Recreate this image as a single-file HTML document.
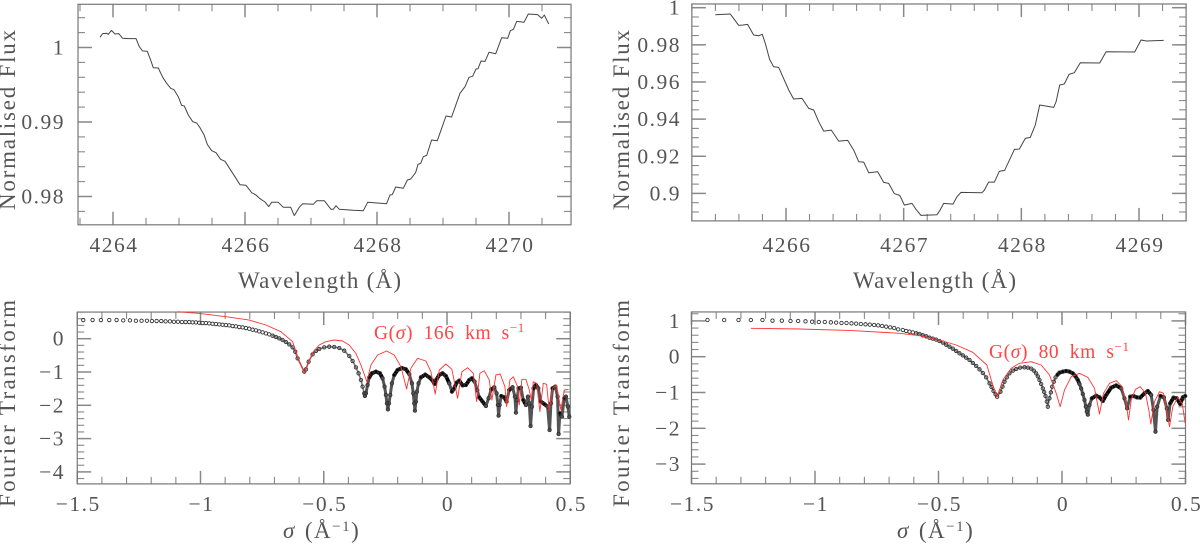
<!DOCTYPE html>
<html lang="en">
<head>
<meta charset="utf-8">
<title>Flux profiles and Fourier transforms</title>
<style>
html,body{margin:0;padding:0;background:#fff;width:1200px;height:544px;overflow:hidden}
svg{display:block}
text{font-family:"Liberation Serif",serif;font-size:21.5px;fill:#555}
.title{font-size:23px}
.red{fill:#f44;font-size:19.5px}
</style>
</head>
<body>
<svg id="fig" xmlns="http://www.w3.org/2000/svg" width="1200" height="544" viewBox="0 0 1200 544">
<rect x="0" y="0" width="1200" height="544" fill="#fff"/>
<text class="title" x="238" y="288" textLength="163" lengthAdjust="spacing">Wavelength (Å)</text>
<text class="title" x="853" y="288" textLength="163" lengthAdjust="spacing">Wavelength (Å)</text>
<text class="title" transform="translate(15,210) rotate(-90)" textLength="180" lengthAdjust="spacing">Normalised Flux</text>
<text class="title" transform="translate(629,210) rotate(-90)" textLength="180" lengthAdjust="spacing">Normalised Flux</text>
<text class="title" transform="translate(15,507) rotate(-90)" textLength="207" lengthAdjust="spacing">Fourier Transform</text>
<text class="title" transform="translate(629,507) rotate(-90)" textLength="207" lengthAdjust="spacing">Fourier Transform</text>
<text class="title" x="283" y="538" style="letter-spacing:1.5px"><tspan font-style="italic">σ</tspan><tspan dx="9">(Å</tspan><tspan dy="-7" font-size="15">−1</tspan><tspan dy="7">)</tspan></text>
<text class="title" x="897" y="538" style="letter-spacing:1.5px"><tspan font-style="italic">σ</tspan><tspan dx="9">(Å</tspan><tspan dy="-7" font-size="15">−1</tspan><tspan dy="7">)</tspan></text>
<text class="red" x="374" y="339" style="letter-spacing:.6px;word-spacing:5px">G(<tspan font-style="italic">σ</tspan>) 166 km s<tspan dy="-7" font-size="13">−1</tspan></text>
<text class="red" x="989" y="358" style="letter-spacing:.6px;word-spacing:5px">G(<tspan font-style="italic">σ</tspan>) 80 km s<tspan dy="-7" font-size="13">−1</tspan></text>
</svg>
<script>
const fluxLeftWave=[4263.803,4263.843,4263.904,4263.929,4263.975,4264.03,4264.086,4264.146,4264.232,4264.348,4264.399,4264.449,4264.52,4264.561,4264.611,4264.687,4264.753,4264.813,4264.874,4264.924,4264.99,4265.04,4265.081,4265.141,4265.207,4265.268,4265.318,4265.379,4265.429,4265.495,4265.561,4265.631,4265.697,4265.798,4265.924,4266.015,4266.101,4266.167,4266.227,4266.303,4266.359,4266.404,4266.505,4266.581,4266.692,4266.747,4266.823,4266.874,4267.035,4267.086,4267.202,4267.303,4267.338,4267.379,4267.429,4267.641,4267.793,4267.859,4268.146,4268.197,4268.232,4268.283,4268.399,4268.46,4268.51,4268.586,4268.621,4268.662,4268.702,4268.753,4268.828,4268.914,4269.045,4269.131,4269.258,4269.333,4269.394,4269.449,4269.5,4269.53,4269.576,4269.636,4269.697,4269.798,4269.889,4269.98,4270.02,4270.066,4270.116,4270.227,4270.293,4270.434,4270.495,4270.535,4270.601];
const fluxLeftValues=[1.00137,1.00186,1.0019,1.00177,1.0023,1.00181,1.00186,1.00123,1.00119,1.00119,1.00011,.99953,.99949,.99855,.99729,.99725,.996,.99519,.99452,.99434,.9934,.99224,.99215,.99094,.99004,.98987,.98924,.9883,.987,.98615,.98588,.98499,.98472,.98333,.98159,.9815,.98051,.9802,.97971,.97926,.97864,.97922,.97922,.97855,.97855,.97743,.97855,.97904,.97895,.97944,.97944,.97828,.97828,.97877,.97828,.97815,.9781,.97922,.97904,.9802,.98025,.98127,.9811,.98221,.98235,.98324,.98431,.98445,.98534,.98552,.98758,.98749,.99081,.99067,.99385,.99474,.996,.99613,.99711,.99716,.99819,.99814,.99935,.99917,1.00132,1.00123,1.00226,1.00244,1.00351,1.00338,1.0045,1.00441,1.00392,1.00436,1.00315];
const fluxRightWave=[4265.399,4265.527,4265.555,4265.598,4265.635,4265.674,4265.725,4265.768,4265.799,4265.824,4265.861,4265.895,4265.938,4265.98,4266.023,4266.065,4266.136,4266.193,4266.235,4266.278,4266.32,4266.385,4266.448,4266.524,4266.575,4266.618,4266.66,4266.703,4266.779,4266.83,4266.873,4266.921,4266.966,4266.972,4267.006,4267.071,4267.099,4267.147,4267.283,4267.306,4267.34,4267.419,4267.453,4267.487,4267.666,4267.686,4267.722,4267.771,4267.813,4267.858,4267.941,4267.983,4268.034,4268.076,4268.119,4268.156,4268.275,4268.295,4268.326,4268.365,4268.405,4268.45,4268.501,4268.666,4268.72,4268.963,4269.017,4269.062,4269.21];
const fluxRightValues=[.99623,.99659,.99426,.99049,.99067,.99102,.98528,.98492,.98564,.98079,.97217,.96822,.96786,.96194,.95566,.95081,.95117,.94578,.94489,.9386,.93357,.93411,.92819,.92855,.92334,.91706,.91688,.91113,.91167,.90593,.90539,.89982,.89893,.89821,.89372,.89462,.89192,.88815,.88851,.89067,.89462,.89426,.89821,.90054,.90036,.9018,.90611,.90611,.91185,.91239,.9237,.92388,.92962,.93016,.93681,.94758,.94632,.94938,.95835,.95889,.9641,.96499,.97038,.9702,.9763,.97612,.98259,.98205,.98241];
const ftLeftSigma=[-1.4756,-1.4378,-1.404,-1.3702,-1.3404,-1.3134,-1.2863,-1.262,-1.239,-1.2173,-1.1971,-1.1781,-1.1592,-1.1416,-1.124,-1.1078,-1.0916,-1.0754,-1.0605,-1.0456,-1.0321,-1.0186,-1.005,-.9915,-.978,-.9645,-.951,-.9374,-.9239,-.9104,-.8969,-.8833,-.8698,-.8563,-.8428,-.8292,-.8157,-.8022,-.7887,-.7752,-.7616,-.7481,-.7346,-.7211,-.7075,-.694,-.6805,-.667,-.6534,-.6399,-.6264,-.6156,-.6061,-.5791,-.5724,-.5615,-.5453,-.5318,-.5183,-.498,-.4777,-.4574,-.4371,-.4168,-.3966,-.383,-.3695,-.3587,-.3492,-.3425,-.3357,-.333,-.3289,-.3222,-.3154,-.3046,-.2884,-.2721,-.2613,-.2532,-.2478,-.2437,-.2397,-.2356,-.2302,-.2235,-.214,-.2005,-.1829,-.1667,-.1532,-.1423,-.1369,-.1329,-.1301,-.1261,-.122,-.1153,-.1058,-.0882,-.072,-.0585,-.0504,-.0423,-.0314,-.0179,-.0044,.0091,.02,.0294,.0389,.0497,.0632,.0768,.0903,.1011,.1119,.1227,.1308,.1444,.1579,.1687,.1795,.1917,.2012,.2066,.2093,.2133,.2201,.2323,.2417,.2525,.2661,.2755,.2796,.2837,.2904,.2999,.3093,.3202,.3283,.3337,.3391,.3445,.3513,.3607,.3702,.381,.3945,.4081,.4162,.4216,.4283,.4392,.4486,.4527,.4581,.4662,.4757,.4824,.4905,.4959];
const ftLeftAmp=[.56,.56,.56,.56,.56,.55,.55,.54,.54,.54,.53,.53,.53,.52,.52,.51,.51,.5,.5,.5,.49,.49,.48,.47,.47,.46,.45,.44,.43,.42,.41,.4,.38,.37,.35,.34,.32,.3,.27,.25,.22,.19,.16,.13,.09,.05,.01,-.04,-.1,-.17,-.26,-.39,-.59,-.99,-.92,-.69,-.47,-.37,-.31,-.26,-.24,-.25,-.28,-.36,-.52,-.67,-.86,-1.04,-1.24,-1.44,-1.64,-1.72,-1.64,-1.39,-1.16,-1.04,-.99,-1.04,-1.19,-1.44,-1.69,-1.94,-2.12,-1.94,-1.69,-1.34,-1.09,-.94,-.88,-.92,-1.06,-1.34,-1.64,-1.94,-2.16,-1.89,-1.59,-1.34,-1.16,-1.08,-1.16,-1.26,-1.36,-1.22,-1.09,-1.04,-1.12,-1.34,-1.59,-1.49,-1.32,-1.26,-1.4,-1.39,-1.24,-1.19,-1.29,-1.54,-1.76,-1.89,-2.02,-1.79,-1.52,-1.46,-1.64,-1.99,-2.31,-1.99,-1.72,-1.76,-1.89,-1.54,-1.46,-1.74,-2.22,-1.84,-1.49,-1.47,-1.84,-1.99,-1.74,-1.94,-2.62,-2.04,-1.49,-1.39,-1.49,-1.89,-1.96,-2.04,-2.74,-1.94,-1.49,-1.44,-1.74,-2.86,-2.24,-2.34,-1.79,-1.74,-2.04,-2.34];
const modelLeftSigma=[-1.0929,-1.005,-.8969,-.8022,-.7346,-.6737,-.6264,-.6034,-.5791,-.5453,-.5183,-.4912,-.4574,-.4236,-.3966,-.3695,-.3492,-.3249,-.3087,-.2816,-.2451,-.214,-.187,-.164,-.1464,-.1193,-.0855,-.0652,-.0477,-.0314,-.0044,.02,.043,.0605,.0835,.1065,.12,.1335,.1511,.1714,.1822,.1984,.216,.235,.2417,.2552,.2688,.2864,.2931,.304,.3202,.3337,.3418,.3499,.3634,.377,.3905,.404,.4148,.4283,.4446,.4622,.4757,.4932];
const modelLeftAmp=[.81,.76,.66,.56,.41,.21,-.09,-.59,-1.02,-.42,-.19,-.09,-.04,-.07,-.19,-.44,-.79,-1.29,-.79,-.49,-.37,-.49,-.84,-1.51,-.89,-.59,-.67,-.99,-1.66,-.94,-.76,-.92,-1.79,-.99,-.87,-1.04,-1.89,-1.04,-.96,-1.24,-1.84,-1.09,-1.06,-1.44,-2.04,-1.24,-1.14,-1.44,-1.99,-1.22,-1.22,-1.54,-1.84,-1.29,-1.34,-2.19,-1.34,-1.37,-2.14,-1.49,-1.39,-2.14,-1.54,-1.52];
const ftRightSigma=[-1.4353,-1.3678,-1.3097,-1.2598,-1.2126,-1.1721,-1.1343,-1.0992,-1.0682,-1.0385,-1.0115,-.9845,-.9602,-.9359,-.9144,-.8928,-.8725,-.8523,-.8334,-.8145,-.7956,-.7781,-.7605,-.7443,-.7281,-.7119,-.6957,-.6795,-.6633,-.6444,-.6309,-.6174,-.6039,-.5904,-.5769,-.5634,-.5499,-.5364,-.5229,-.5095,-.496,-.4825,-.469,-.4555,-.442,-.4285,-.415,-.4015,-.388,-.3745,-.361,-.3475,-.334,-.3205,-.307,-.2935,-.2854,-.2773,-.2692,-.2625,-.249,-.2409,-.2328,-.2234,-.2126,-.1991,-.1856,-.1694,-.1518,-.1383,-.1248,-.1141,-.1046,-.0979,-.0911,-.0844,-.0776,-.0722,-.0668,-.0614,-.0574,-.0506,-.0452,-.0398,-.0331,-.0263,-.0182,-.0101,.0034,.0169,.0303,.0439,.0546,.0641,.0708,.0776,.0843,.0911,.0965,.1005,.1046,.1113,.1208,.1383,.1518,.1653,.1788,.199,.2193,.2395,.253,.2638,.276,.2895,.3029,.3164,.334,.3475,.361,.3704,.3785,.3853,.3988,.4123,.4244,.4298,.4379,.4514,.4649,.4784,.4892,.4986];
const ftRightAmp=[1.025,1.025,1.025,1.025,1.025,1.006,1.006,.997,.997,.988,.978,.969,.969,.96,.951,.941,.941,.932,.923,.913,.904,.895,.885,.876,.857,.839,.82,.802,.764,.746,.718,.699,.68,.653,.634,.597,.569,.531,.504,.476,.438,.392,.336,.28,.224,.159,.094,.038,-.027,-.092,-.176,-.26,-.353,-.455,-.577,-.744,-.847,-.958,-1.051,-1.117,-.977,-.837,-.698,-.577,-.465,-.39,-.344,-.306,-.297,-.306,-.334,-.39,-.465,-.549,-.651,-.763,-.884,-.986,-1.098,-1.256,-1.396,-1.163,-.996,-.837,-.698,-.577,-.502,-.446,-.418,-.4,-.418,-.465,-.549,-.651,-.763,-.884,-1.042,-1.21,-1.396,-1.536,-1.619,-1.349,-1.163,-1.089,-1.135,-1.238,-1.07,-.865,-.8,-.884,-1.163,-1.442,-1.117,-1.098,-1.135,-1.144,-1.023,-.958,-1.07,-1.489,-2.094,-1.396,-1.098,-1.135,-1.442,-1.768,-1.303,-1.144,-1.163,-1.321,-1.135,-1.098];
const modelRightSigma=[-1.2598,-1.0628,-.8603,-.6579,-.5769,-.496,-.4285,-.361,-.3043,-.28,-.2625,-.2395,-.2058,-.1721,-.1248,-.0844,-.0506,-.0236,-.0074,.0101,.0371,.0708,.1046,.1316,.1518,.168,.1923,.2193,.2436,.2598,.2692,.28,.2975,.3164,.338,.3515,.3596,.3745,.3947,.4109,.4258,.4352,.4487,.469,.4865,.4986];
const modelRightAmp=[.792,.774,.736,.653,.587,.466,.327,.122,-.232,-.791,-1.117,-.651,-.325,-.185,-.139,-.232,-.511,-1.023,-1.396,-.93,-.558,-.465,-.577,-.884,-1.601,-1.023,-.744,-.67,-.837,-1.303,-1.768,-1.21,-.912,-.837,-1.023,-1.489,-1.88,-1.256,-.977,-1.023,-1.582,-1.955,-1.396,-1.135,-1.303,-1.861];

const fluxLeftXTicks=["4264","4266","4268","4270"];
const fluxLeftYTicks=["0.98","0.99","1"];
const fluxRightXTicks=["4266","4267","4268","4269"];
const fluxRightYTicks=["0.9","0.92","0.94","0.96","0.98","1"];
const ftLeftXTicks=["−1.5","−1","−0.5","0","0.5"];
const ftLeftYTicks=["−4","−3","−2","−1","0"];
const ftRightXTicks=["−1.5","−1","−0.5","0","0.5"];
const ftRightYTicks=["−3","−2","−1","0","1"];

const NS="http://www.w3.org/2000/svg";
const fig=document.getElementById("fig");
function mk(tag,attrs,parent){
  const el=document.createElementNS(NS,tag);
  for(const k in attrs){el.setAttribute(k,attrs[k]);}
  (parent||fig).appendChild(el);
  return el;
}
function num(s){return parseFloat(String(s).replace("−","-"));}

function drawPanel(p){
  const g=mk("g",{});
  
  
  const X=v=>p.x0+(v-p.xa)*p.xs;
  const Y=v=>p.y0-(v-p.ya)*p.ys;
  const L=X(p.xMin),R=X(p.xMax),B=Y(p.yMin),T=Y(p.yMax);

  // ticks on all four sides
  const nx=Math.round((p.xMax-p.xMin)/p.xMinor);
  const startX=Math.ceil(p.xMin/p.xMinor-1e-6);
  for(let i=startX;i<=startX+nx+1;i++){
    const v=i*p.xMinor;
    if(v>p.xMax+1e-6){continue;}
    const px=X(v);
    const major=Math.abs(v/p.xMajor-Math.round(v/p.xMajor))<1e-4;
    const len=major?13:7;
    const t1=mk("line",{x1:px,x2:px,y1:B,y2:B-len,stroke:"#888","stroke-width":major?1.5:1.1},g);
    
    
    const t2=mk("line",{x1:px,x2:px,y1:T,y2:T+len,stroke:"#888","stroke-width":major?1.5:1.1},g);
    
    
  }
  const startY=Math.ceil(p.yMin/p.yMinor-1e-6);
  const ny=Math.round((p.yMax-p.yMin)/p.yMinor);
  for(let i=startY;i<=startY+ny+1;i++){
    const v=i*p.yMinor;
    if(v>p.yMax+1e-6){continue;}
    const py=Y(v);
    const major=Math.abs(v/p.yMajor-Math.round(v/p.yMajor))<1e-4;
    const len=major?14:7;
    const t1=mk("line",{x1:L,x2:L+len,y1:py,y2:py,stroke:"#888","stroke-width":major?1.5:1.1},g);
    
    
    const t2=mk("line",{x1:R,x2:R-len,y1:py,y2:py,stroke:"#888","stroke-width":major?1.5:1.1},g);
    
    
  }
  const frame=mk("rect",{x:L,y:T,width:R-L,height:B-T,fill:"none",stroke:"#777","stroke-width":1.2},g);
  
  

  p.xTicks.forEach(s=>{
    const t=mk("text",{x:X(num(s))+1,y:p.xLabelY,"text-anchor":"middle",style:"letter-spacing:1.5px"},g);
    
    
    t.textContent=s;
  });
  p.yTicks.forEach(s=>{
    const t=mk("text",{x:p.yLabelX,y:Y(num(s))+7,"text-anchor":"end",style:"letter-spacing:1.5px"},g);
    
    
    t.textContent=s;
  });

  if(p.lineX){
    const d=p.lineX.map((v,i)=>X(v).toFixed(1)+","+Y(p.lineY[i]).toFixed(1)).join(" ");
    const line=mk("polyline",{points:d,fill:"none",stroke:"#444","stroke-width":1,"stroke-linejoin":"round"},g);
    
    
  }
  if(p.ftX){
    for(let i=0;i<p.ftX.length-1;i++){
      if(p.ftX[i]<p.traceFrom){continue;}
      const x1=X(p.ftX[i]),x2=X(p.ftX[i+1]),y1=Y(p.ftY[i]),y2=Y(p.ftY[i+1]);
      const dx=x2-x1;
      const steep=Math.abs(y2-y1)/dx>2.5;
      const inDense=p.ftX[i]>p.denseFrom;
      const dense=inDense&&!steep;
      const s=mk("line",{x1:x1,y1:y1,x2:x2,y2:y2,stroke:dense?"#000":(inDense?"#555":"#777"),"stroke-width":dense?3.8:(inDense?3:1.6),"stroke-linecap":"round"},g);
      
      
    }
    p.ftX.forEach((v,i)=>{
      const c=mk("circle",{cx:X(v),cy:Y(p.ftY[i]),r:1.7,fill:"none",stroke:"#333","stroke-width":0.9},g);
      
      
    });
    const d=p.modelX.map((v,i)=>X(v).toFixed(1)+","+Y(p.modelY[i]).toFixed(1)).join(" ");
    const m=mk("polyline",{points:d,fill:"none",stroke:"#f33","stroke-width":0.9,"stroke-linejoin":"round"},g);
    
    
  }
}

drawPanel({name:"flux-panel-left",x0:113,xa:4264,xs:66,y0:47.5,ya:1,ys:7450,
  xMin:4263.47,xMax:4270.94,yMin:.9762,yMax:1.0058,xMinor:.5,xMajor:2,yMinor:.002,yMajor:.01,
  xTicks:fluxLeftXTicks,yTicks:fluxLeftYTicks,xLabelY:252,yLabelX:65,lineX:fluxLeftWave,lineY:fluxLeftValues});
drawPanel({name:"flux-panel-right",x0:786,xa:4266,xs:117.67,y0:7.7,ya:1,ys:1857,
  xMin:4265.2,xMax:4269.4,yMin:.8852,yMax:1.002,xMinor:.2,xMajor:1,yMinor:.005,yMajor:.02,
  xTicks:fluxRightXTicks,yTicks:fluxRightYTicks,xLabelY:252,yLabelX:681,lineX:fluxRightWave,lineY:fluxRightValues});
drawPanel({name:"fourier-panel-left",x0:447,xa:0,xs:246.5,y0:338.7,ya:0,ys:33.3,
  xMin:-1.5,xMax:.5,yMin:-4.36,yMax:.8,xMinor:.1,xMajor:.5,yMinor:.2,yMajor:1,
  xTicks:ftLeftXTicks,yTicks:ftLeftYTicks,xLabelY:511,yLabelX:65,
  ftX:ftLeftSigma,ftY:ftLeftAmp,modelX:modelLeftSigma,modelY:modelLeftAmp,traceFrom:-.72,denseFrom:-.34});
drawPanel({name:"fourier-panel-right",x0:1062,xa:0,xs:247,y0:356.7,ya:0,ys:35.8,
  xMin:-1.5,xMax:.5,yMin:-3.55,yMax:1.25,xMinor:.1,xMajor:.5,yMinor:.2,yMajor:1,
  xTicks:ftRightXTicks,yTicks:ftRightYTicks,xLabelY:511,yLabelX:681,
  ftX:ftRightSigma,ftY:ftRightAmp,modelX:modelRightSigma,modelY:modelRightAmp,traceFrom:-.6,denseFrom:-.02});
</script>
</body>
</html>
